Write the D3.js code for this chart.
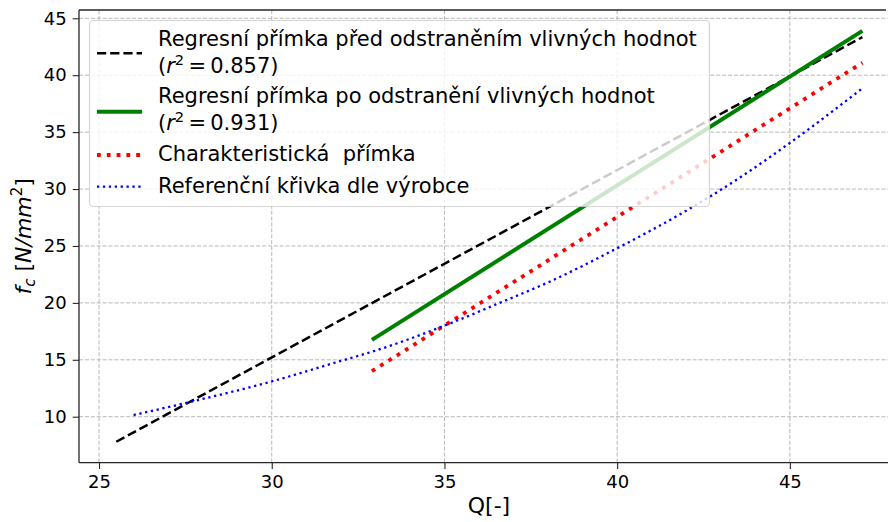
<!DOCTYPE html>
<html>
<head>
<meta charset="utf-8">
<script src="https://cdn.jsdelivr.net/npm/d3@7"></script>
<style>
  body { margin: 0; background: #fff; }
  svg { display: block; font-family: "DejaVu Sans", sans-serif; }
  text { white-space: pre; }
</style>
</head>
<body>
<svg id="chart" width="888" height="522"></svg>
<script>
// ---- data ----
const xTicks = [25, 30, 35, 40, 45];
const yTicks = [10, 15, 20, 25, 30, 35, 40, 45];

// regression line before removing influential values
const qBefore = [25.5, 47.1];
const fcBefore = [7.8, 43.35];
// regression line after removing influential values
const qAfter = [32.9, 47.1];
const fcAfter = [16.75, 43.9];
// characteristic line
const qChar = [32.9, 47.1];
const fcChar = [14.0, 41.1];
// manufacturer's reference curve
const qRef = [26, 27.5, 30, 32, 33, 35, 36.6, 38, 40, 42, 43.5, 45, 47.1];
const fcRef = [10.15, 11.2, 13.1, 14.9, 15.8, 18.0, 20.0, 21.8, 24.8, 28.1, 30.9, 34.05, 38.85];

const r2Before = "0.857";
const r2After = "0.931";
const legendTitles = [
  "Regresní přímka před odstraněním vlivných hodnot",
  "Regresní přímka po odstranění vlivných hodnot",
  "Charakteristická  přímka",
  "Referenční křivka dle výrobce"
];

// ---- layout ----
const svg = d3.select("#chart");
const plot = { left: 79, right: 899, top: 10, bottom: 462.7 };

const x = d3.scaleLinear().domain([24.42, 48.16]).range([plot.left, plot.right]);
const y = d3.scaleLinear().domain([5.96, 45.73]).range([plot.bottom, plot.top]);

// grid
const grid = svg.append("g")
  .attr("stroke", "#b8b8b8").attr("stroke-width", 1)
  .attr("stroke-dasharray", "4.1,1.8");
grid.selectAll(".gx").data(xTicks).join("line")
  .attr("x1", d => x(d)).attr("x2", d => x(d))
  .attr("y1", plot.top).attr("y2", plot.bottom);
grid.selectAll(".gy").data(yTicks).join("line")
  .attr("x1", plot.left).attr("x2", plot.right)
  .attr("y1", d => y(d)).attr("y2", d => y(d));

// series
const pairs = (qs, fs) => qs.map((q, i) => [q, fs[i]]);
const line = d3.line().x(d => x(d[0])).y(d => y(d[1]));
const curve = d3.line().x(d => x(d[0])).y(d => y(d[1])).curve(d3.curveMonotoneX);

const styles = [
  { color: "#000000", width: 2.5, dash: "9.2,4" },
  { color: "#008000", width: 4, dash: null },
  { color: "#ff0000", width: 3.8, dash: "3.8,6" },
  { color: "#0000ff", width: 2.3, dash: "2.3,3.6" }
];

const series = [
  { pts: pairs(qBefore, fcBefore), gen: line },
  { pts: pairs(qAfter, fcAfter), gen: line },
  { pts: pairs(qChar, fcChar), gen: line },
  { pts: pairs(qRef, fcRef), gen: curve }
];

series.forEach((s, i) => {
  svg.append("path")
    .attr("d", s.gen(s.pts))
    .attr("fill", "none")
    .attr("stroke", styles[i].color)
    .attr("stroke-width", styles[i].width)
    .attr("stroke-dasharray", styles[i].dash);
});

// axes
const axisColor = "#262626";
const xAxis = d3.axisBottom(x).tickValues(xTicks).tickSize(6.3).tickPadding(6).tickFormat(d3.format("d"));
const yAxis = d3.axisLeft(y).tickValues(yTicks).tickSize(6.3).tickPadding(6).tickFormat(d3.format("d"));

const gx = svg.append("g").attr("transform", `translate(0,${plot.bottom})`).call(xAxis);
const gy = svg.append("g").attr("transform", `translate(${plot.left},0)`).call(yAxis);
[gx, gy].forEach(g => {
  g.select(".domain").remove();
  g.selectAll(".tick line").attr("stroke", axisColor).attr("stroke-width", 1.1);
  g.selectAll(".tick text").attr("fill", "#000").style("font-size", "18px")
    .style("font-family", "'DejaVu Sans', sans-serif");
});
gx.selectAll(".tick text").attr("y", 12.5).attr("dy", "0.71em");

// spines
const spines = svg.append("g").attr("stroke", axisColor).attr("stroke-width", 1.3);
spines.append("line").attr("x1", plot.left).attr("x2", plot.left).attr("y1", plot.top).attr("y2", plot.bottom);
spines.append("line").attr("x1", plot.left).attr("x2", plot.right).attr("y1", plot.bottom).attr("y2", plot.bottom);
spines.append("line").attr("x1", plot.left).attr("x2", 886).attr("y1", plot.top).attr("y2", plot.top);

// axis labels
svg.append("text")
  .attr("x", (plot.left + plot.right) / 2).attr("y", 513)
  .attr("text-anchor", "middle").style("font-size", "22px")
  .text("Q[-]");

const yl = svg.append("text")
  .attr("transform", `translate(31,${(plot.top + plot.bottom) / 2}) rotate(-90)`)
  .attr("text-anchor", "middle").style("font-size", "22px");
yl.append("tspan").attr("font-style", "italic").text("f");
yl.append("tspan").attr("font-style", "italic").attr("dy", 4).style("font-size", "15px").text("c");
yl.append("tspan").attr("dy", -4).text(" [");
yl.append("tspan").attr("font-style", "italic").text("N/mm");
yl.append("tspan").attr("dy", -9).style("font-size", "15px").text("2");
yl.append("tspan").attr("dy", 9).text("]");

// legend
const legend = svg.append("g");
legend.append("rect")
  .attr("x", 89.5).attr("y", 20.5).attr("width", 620).attr("height", 186)
  .attr("rx", 4).attr("ry", 4)
  .attr("fill", "#fff").attr("fill-opacity", 0.8)
  .attr("stroke", "#cccccc").attr("stroke-opacity", 0.8).attr("stroke-width", 1.2);

const handleY = [53.3, 111.7, 155, 186.7];
styles.forEach((s, i) => {
  legend.append("line")
    .attr("x1", 97).attr("x2", 142)
    .attr("y1", handleY[i]).attr("y2", handleY[i])
    .attr("stroke", s.color).attr("stroke-width", s.width)
    .attr("stroke-dasharray", s.dash);
});

const fs = "21px";
function r2Line(g, yPos, value) {
  const t = g.append("text").attr("x", 158).attr("y", yPos).style("font-size", fs);
  t.append("tspan").text("(");
  t.append("tspan").attr("font-style", "italic").text("r");
  t.append("tspan").attr("dy", -8).style("font-size", "14.7px").text("2");
  t.append("tspan").attr("dy", 8).text("\u2009=\u2009" + value + ")");
}

legend.append("text").attr("x", 158).attr("y", 46).style("font-size", fs).text(legendTitles[0]);
r2Line(legend, 72.7, r2Before);
legend.append("text").attr("x", 158).attr("y", 103.3).style("font-size", fs).text(legendTitles[1]);
r2Line(legend, 130, r2After);
legend.append("text").attr("x", 158).attr("y", 160.5).style("font-size", fs).text(legendTitles[2]);
legend.append("text").attr("x", 158).attr("y", 193).style("font-size", fs).text(legendTitles[3]);
</script>
</body>
</html>
